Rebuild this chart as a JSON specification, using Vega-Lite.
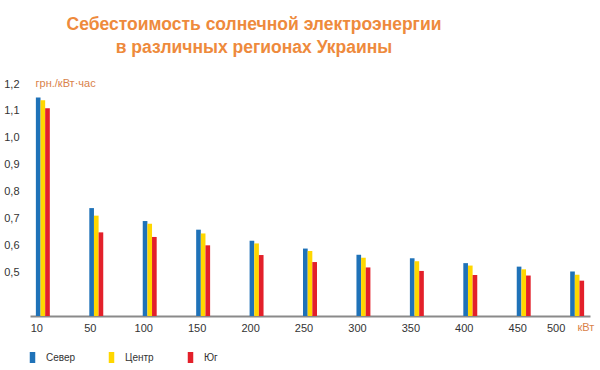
{
  "$schema": "https://vega.github.io/schema/vega-lite/v6.json",
  "autosize": {"type": "none"},
  "width": 560,
  "height": 232,
  "padding": {"left": 30, "top": 84, "right": 10, "bottom": 54},
  "background": "white",
  "title": {
    "text": ["Себестоимость солнечной электроэнергии", "в различных регионах Украины"],
    "anchor": "middle",
    "frame": "group",
    "dx": -56,
    "offset": 21,
    "font": "Liberation Sans, Arial, Helvetica, sans-serif",
    "fontSize": 17.5,
    "fontWeight": "bold",
    "lineHeight": 23,
    "color": "#EE8A3C"
  },
  "config": {
    "view": {"stroke": null},
    "font": "Liberation Sans, Arial, Helvetica, sans-serif"
  },
  "data": {
    "values": [
      {"kw": "10", "region": "Север", "cost": 1.15},
      {"kw": "10", "region": "Центр", "cost": 1.14},
      {"kw": "10", "region": "Юг", "cost": 1.11},
      {"kw": "50", "region": "Север", "cost": 0.74},
      {"kw": "50", "region": "Центр", "cost": 0.712},
      {"kw": "50", "region": "Юг", "cost": 0.65},
      {"kw": "100", "region": "Север", "cost": 0.692},
      {"kw": "100", "region": "Центр", "cost": 0.682},
      {"kw": "100", "region": "Юг", "cost": 0.633},
      {"kw": "150", "region": "Север", "cost": 0.66},
      {"kw": "150", "region": "Центр", "cost": 0.646},
      {"kw": "150", "region": "Юг", "cost": 0.602},
      {"kw": "200", "region": "Север", "cost": 0.619},
      {"kw": "200", "region": "Центр", "cost": 0.609},
      {"kw": "200", "region": "Юг", "cost": 0.566},
      {"kw": "250", "region": "Север", "cost": 0.59},
      {"kw": "250", "region": "Центр", "cost": 0.581},
      {"kw": "250", "region": "Юг", "cost": 0.54},
      {"kw": "300", "region": "Север", "cost": 0.567},
      {"kw": "300", "region": "Центр", "cost": 0.556},
      {"kw": "300", "region": "Юг", "cost": 0.52},
      {"kw": "350", "region": "Север", "cost": 0.554},
      {"kw": "350", "region": "Центр", "cost": 0.543},
      {"kw": "350", "region": "Юг", "cost": 0.507},
      {"kw": "400", "region": "Север", "cost": 0.536},
      {"kw": "400", "region": "Центр", "cost": 0.527},
      {"kw": "400", "region": "Юг", "cost": 0.492},
      {"kw": "450", "region": "Север", "cost": 0.523},
      {"kw": "450", "region": "Центр", "cost": 0.513},
      {"kw": "450", "region": "Юг", "cost": 0.49},
      {"kw": "500", "region": "Север", "cost": 0.505},
      {"kw": "500", "region": "Центр", "cost": 0.493},
      {"kw": "500", "region": "Юг", "cost": 0.471}
    ]
  },
  "mark": {"type": "bar", "clip": true},
  "encoding": {
    "x": {
      "field": "kw",
      "type": "ordinal",
      "sort": ["10", "50", "100", "150", "200", "250", "300", "350", "400", "450", "500"],
      "scale": {"paddingInner": 0.739, "paddingOuter": 0.11},
      "axis": {
        "title": "кВт",
        "titleAngle": 0,
        "titleX": 547,
        "titleY": 11,
        "titleAlign": "left",
        "titleBaseline": "middle",
        "titleFontSize": 11,
        "titleFontWeight": "normal",
        "titleColor": "#D9824A",
        "labelAngle": 0,
        "labelFontSize": 11,
        "labelColor": "#333333",
        "labelPadding": 6,
        "labelOffset": {"condition": {"test": "datum.value == '500'", "value": -21}, "value": -6},
        "ticks": false,
        "domainColor": "#8a8a8a",
        "domainWidth": 2
      }
    },
    "xOffset": {"field": "region", "type": "nominal", "sort": ["Север", "Центр", "Юг"], "scale": {"paddingInner": 0, "paddingOuter": 0}},
    "y": {
      "field": "cost",
      "type": "quantitative",
      "scale": {"domain": [0.34, 1.2], "zero": false, "nice": false},
      "axis": {
        "title": "грн./кВт·час",
        "titleAngle": 0,
        "titleX": 5,
        "titleY": -1,
        "titleAlign": "left",
        "titleBaseline": "middle",
        "titleFontSize": 11,
        "titleFontWeight": "normal",
        "titleColor": "#D9824A",
        "values": [0.5, 0.6, 0.7, 0.8, 0.9, 1.0, 1.1, 1.2],
        "labelExpr": "replace(format(datum.value, '.1f'), '.', ',')",
        "labelFontSize": 11,
        "labelColor": "#333333",
        "labelPadding": 11,
        "domain": false,
        "ticks": false,
        "grid": false
      }
    },
    "y2": {"datum": 0.34},
    "color": {
      "field": "region",
      "type": "nominal",
      "sort": ["Север", "Центр", "Юг"],
      "scale": {"domain": ["Север", "Центр", "Юг"], "range": ["#1F72B8", "#FFD700", "#E3202A"]},
      "legend": {
        "title": null,
        "orient": "none",
        "legendX": -3,
        "legendY": 268,
        "direction": "horizontal",
        "gridAlign": "all",
        "columnPadding": 30,
        "symbolType": "M-0.5,-1H0.5V1H-0.5Z",
        "symbolSize": 121,
        "symbolStrokeWidth": 0,
        "labelFontSize": 10,
        "labelColor": "#333333",
        "labelOffset": 8
      }
    }
  }
}
